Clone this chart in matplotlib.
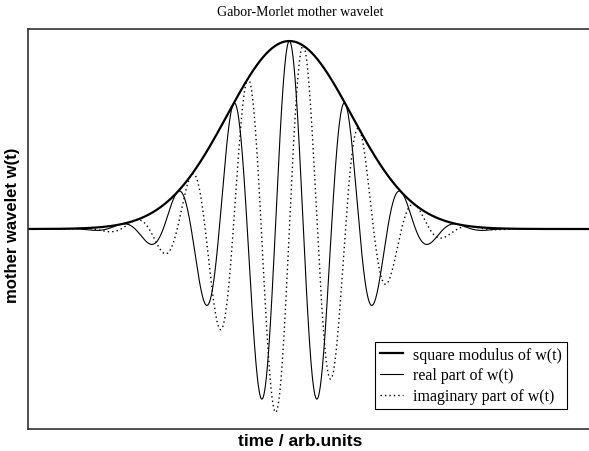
import numpy as np
import matplotlib
matplotlib.use("Agg")
import matplotlib.pyplot as plt

# Parameters of the plotted Gabor-Morlet wavelet
center = 0.0          # time of envelope maximum (arb. units)
period = 1.0          # oscillation period (arb. units)
sigma = 1.107         # gaussian width of the envelope (arb. units)
amplitude = 1.0       # envelope maximum
t_range = [-4.66, 5.36]
y_range = [-1.064, 1.064]

title = "Gabor-Morlet mother wavelet"
xlabel = "time / arb.units"
ylabel = "mother wavelet w(t)"
legend_labels = ["square modulus of w(t)", "real part of w(t)", "imaginary part of w(t)"]

t = np.linspace(t_range[0], t_range[1], 3000)
env = amplitude * np.exp(-(t - center) ** 2 / (2 * sigma ** 2))
w = env * np.exp(1j * 2 * np.pi * (t - center) / period)
modulus = np.abs(w)
real_part = w.real
imag_part = w.imag

W, H = 589, 452
fig = plt.figure(figsize=(W / 100, H / 100), dpi=100)
ax = fig.add_axes([28 / W, 1 - 430 / H, (590 - 28) / W, 400 / H])

ax.plot(t, modulus, color="black", lw=1.6, label=legend_labels[0])
ax.plot(t, real_part, color="black", lw=0.8, label=legend_labels[1])
ax.plot(t, imag_part, color="black", lw=1.0, linestyle=(0, (1, 2.2)), label=legend_labels[2])

ax.set_xlim(t_range)
ax.set_ylim(y_range)
ax.set_xticks([])
ax.set_yticks([])
for s in ax.spines.values():
    s.set_color("#333333")
    s.set_linewidth(1.2)

fig.text(300 / W, 1 - 13 / H, title, ha="center", va="center",
         family="Liberation Serif", fontsize=10)
fig.text(300 / W, 1 - 442 / H, xlabel, ha="center", va="center",
         family="Liberation Sans", fontweight="bold", fontsize=12.5)
fig.text(13 / W, 1 - 225 / H, ylabel, ha="center", va="center", rotation=90,
         family="Liberation Sans", fontweight="bold", fontsize=12)

leg = ax.legend(loc="lower right", bbox_to_anchor=((567 - 28) / (590 - 28), (430 - 410) / 400),
                prop={"family": "Liberation Serif", "size": 11.5},
                frameon=True, fancybox=False, framealpha=1, edgecolor="black",
                borderpad=0.3, handlelength=1.45, handletextpad=0.63, labelspacing=0.3,
                borderaxespad=0.0)
leg.get_frame().set_linewidth(0.8)

fig.savefig("out.png", dpi=100)
